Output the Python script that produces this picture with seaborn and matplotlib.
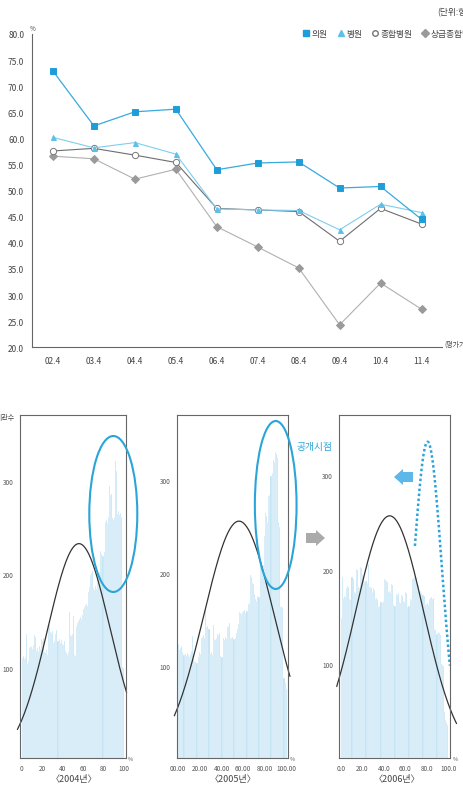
import numpy as np
import matplotlib
matplotlib.use("Agg")
import matplotlib.pyplot as plt
from matplotlib.lines import Line2D
from matplotlib.patches import Ellipse, FancyArrow
import seaborn as sns

# 평가 시점별 항목 충족률 (%)
periods = ["02.4", "03.4", "04.4", "05.4", "06.4", "07.4", "08.4", "09.4", "10.4", "11.4"]
clinic = [72.9, 62.4, 65.1, 65.6, 54.0, 55.3, 55.5, 50.5, 50.8, 44.5]
hospital = [60.2, 58.2, 59.2, 57.0, 46.5, 46.3, 46.2, 42.5, 47.4, 45.8]
general = [57.6, 58.1, 56.8, 55.4, 46.6, 46.3, 46.0, 40.3, 46.6, 43.6]
tertiary = [56.6, 56.1, 52.2, 54.1, 43.1, 39.2, 35.2, 24.3, 32.3, 27.3]
series_names = ["의원", "병원", "종합병원", "상급종합병원"]

# 히스토그램 (기관수, 1% 구간)
bins_pct = list(range(100))
count_2004 = [110, 112, 109, 111, 136, 104, 107, 121, 123, 122,
              120, 124, 135, 133, 118, 121, 117, 123, 120, 131,
              129, 132, 117, 116, 119, 114, 147, 146, 138, 137,
              139, 126, 128, 136, 140, 129, 131, 126, 130, 125,
              124, 128, 118, 116, 114, 117, 160, 135, 134, 136,
              155, 114, 112, 145, 148, 150, 152, 154, 152, 156,
              163, 165, 167, 168, 166, 181, 186, 199, 201, 204,
              185, 183, 188, 184, 202, 200, 203, 225, 222, 220,
              224, 256, 258, 255, 262, 295, 285, 286, 260, 258,
              262, 322, 311, 265, 268, 264, 266, 262, 101, 100]
count_2005 = [124, 118, 120, 122, 115, 112, 113, 111, 114, 112,
              110, 113, 116, 133, 108, 105, 106, 104, 110, 115,
              113, 130, 132, 134, 131, 163, 142, 143, 140, 113,
              115, 112, 144, 129, 128, 130, 135, 134, 136, 111,
              110, 130, 128, 132, 129, 142, 143, 147, 131, 130,
              132, 129, 131, 136, 140, 145, 158, 157, 156, 158,
              160, 161, 157, 159, 167, 168, 198, 196, 190, 188,
              178, 172, 170, 176, 175, 211, 210, 208, 209, 240,
              265, 262, 255, 283, 284, 305, 308, 322, 320, 330,
              328, 324, 255, 250, 164, 165, 163, 88, 82, 76]
count_2006 = [149, 192, 170, 172, 171, 180, 183, 181, 169, 168,
              192, 190, 176, 175, 201, 199, 181, 180, 203, 202,
              194, 193, 187, 188, 186, 206, 181, 182, 180, 176,
              180, 178, 169, 170, 168, 160, 161, 166, 165, 167,
              190, 189, 188, 187, 176, 177, 175, 185, 184, 162,
              161, 174, 173, 175, 166, 165, 173, 172, 167, 166,
              176, 175, 160, 161, 169, 168, 190, 191, 192, 193,
              191, 185, 184, 176, 177, 175, 173, 172, 162, 163,
              164, 162, 169, 170, 171, 169, 170, 137, 136, 132,
              134, 133, 131, 100, 99, 98, 49, 40, 37, 35]
hist_captions = ["〈2004년〉", "〈2005년〉", "〈2006년〉"]
hist_xticklabels = [["0", "20", "40", "60", "80", "100"],
                    ["00.00", "20.00", "40.00", "60.00", "80.00", "100.00"],
                    ["0.0", "20.0", "40.0", "60.0", "80.0", "100.0"]]
# 정규곡선 (평균, 표준편차, 최고점)
fit_mean = [56.0, 56.1, 45.5]
fit_sd = [30.6, 32.3, 31.5]
fit_peak = [233, 256, 257]
# 공개 이전 분포 (점선)
prev_mean, prev_sd, prev_peak = 80.8, 13.2, 335.6

W, H = 464, 803
sns.set_style("white")
plt.rcParams["font.family"] = ["Noto Sans CJK KR", "DejaVu Sans"]

fig = plt.figure(figsize=(W / 100, H / 100), dpi=100)

# ---------- 상단 꺾은선 그래프 ----------
ax = fig.add_axes([32.5 / W, 1 - 348.3 / H, (442 - 32.5) / W, (348.3 - 35) / H])
styles = [
    (tertiary, "#b0b0b0", "D", 4.2, "#9a9a9a", "#9a9a9a", 0.8),
    (general, "#6e6e6e", "o", 4.5, "white", "#777777", 0.8),
    (hospital, "#7fcdef", "^", 3.6, "#5cc0ea", "#5cc0ea", 0.8),
    (clinic, "#3aa9dd", "s", 3.8, "#1e9ed8", "#1e9ed8", 0.9),
]
for vals, lc, mk, ms, mfc, mec, lw in styles:
    sns.lineplot(x=periods, y=vals, ax=ax, sort=False, color=lc, linewidth=lw,
                 marker=mk, markersize=ms, markerfacecolor=mfc,
                 markeredgecolor=mec, markeredgewidth=0.7)

ax.set_xlim(-0.5, 9.5)
ax.set_ylim(20, 80)
ax.set_xticks(range(len(periods)))
ax.set_xticklabels(periods)
ax.set_xticks(np.arange(0.5, 10, 1), minor=True)
ax.set_yticks(np.arange(20, 81, 5))
ax.set_yticklabels([f"{v:.1f}" for v in np.arange(20, 81, 5)])
ax.tick_params(axis="x", which="major", length=0, labelsize=6, colors="#444444", pad=6)
ax.tick_params(axis="x", which="minor", direction="in", length=8, width=0.7, color="#666666")
ax.tick_params(axis="y", length=2, width=0.6, labelsize=6, colors="#444444", pad=4)
ax.set_xlabel("")
ax.set_ylabel("")
for s in ["top", "right"]:
    ax.spines[s].set_visible(False)
for s in ["left", "bottom"]:
    ax.spines[s].set_color("#666666")
    ax.spines[s].set_linewidth(0.8)

handles = [
    Line2D([], [], linestyle="none", marker="s", markersize=4, color="#1e9ed8"),
    Line2D([], [], linestyle="none", marker="^", markersize=4, color="#5cc0ea"),
    Line2D([], [], linestyle="none", marker="o", markersize=4, markerfacecolor="white",
           markeredgecolor="#777777"),
    Line2D([], [], linestyle="none", marker="D", markersize=3.6, color="#9a9a9a"),
]
fig.legend(handles, series_names, loc="center left", bbox_to_anchor=(294 / W, 1 - 35 / H),
           ncol=4, frameon=False, fontsize=6.3, handletextpad=0.1, columnspacing=1.0,
           handlelength=1.0, labelcolor="#444444")

fig.text(437 / W, 1 - 13 / H, "(단위:항목)", fontsize=6.3, va="center", color="#444444")
fig.text(33 / W, 1 - 29 / H, "%", fontsize=4.5, ha="center", va="center", color="#444444")
fig.text(444 / W, 1 - 345 / H, "(평가기간)", fontsize=5, va="center", color="#444444")

# ---------- 하단 히스토그램 ----------
lefts = [20, 176.7, 339.3]
rights = [125.7, 287.7, 450.3]
xlims = [(-1.66, 101.7), (-1.2, 100.9), (-1.3, 101.9)]
ylims = [(3, 371), (1.6, 370), (0, 364)]
curve_range = [(-4.2, 102.6), (-3.4, 103.0), (-3.7, 107.7)]
caption_x = [74, 233, 397]
counts_all = [count_2004, count_2005, count_2006]

for i in range(3):
    hax = fig.add_axes([lefts[i] / W, 1 - 759 / H, (rights[i] - lefts[i]) / W, (759 - 416) / H])
    sns.histplot(x=bins_pct, weights=counts_all[i], binwidth=1, binrange=(0, 100), ax=hax,
                 color="#b9e0f4", edgecolor="white", linewidth=0.25, alpha=1)
    xs = np.linspace(curve_range[i][0], curve_range[i][1], 300)
    ys = fit_peak[i] * np.exp(-((xs - fit_mean[i]) ** 2) / (2 * fit_sd[i] ** 2))
    hax.plot(xs, ys, color="#333333", linewidth=0.9, clip_on=False)
    if i == 2:
        xd = np.linspace(69, 101.5, 200)
        yd = prev_peak * np.exp(-((xd - prev_mean) ** 2) / (2 * prev_sd ** 2))
        hax.plot(xd, yd, color="#2ba3da", linewidth=1.8, linestyle=(0, (1.0, 1.0)),
                 clip_on=False)
    hax.set_xlim(*xlims[i])
    hax.set_ylim(*ylims[i])
    hax.set_xticks(range(0, 101, 20))
    hax.set_xticklabels(hist_xticklabels[i])
    hax.set_yticks([100, 200, 300])
    hax.tick_params(length=2.5, width=0.6, labelsize=4.6, colors="#555555", pad=2)
    hax.set_xlabel("")
    hax.set_ylabel("")
    for s in hax.spines.values():
        s.set_color("#666666")
        s.set_linewidth(0.8)
    fig.text((rights[i] + 5) / W, 1 - 760 / H, "%", fontsize=4, ha="center", va="center",
             color="#555555")
    fig.text(caption_x[i] / W, 1 - 780 / H, hist_captions[i], fontsize=6.5, ha="center",
             va="center", color="#444444")

fig.text(15 / W, 1 - 418 / H, "기관수", fontsize=5, ha="right", va="center", color="#444444")

# 강조 표시
tr = fig.dpi_scale_trans
for cx, cy, ew, eh in [(113.3, 515, 48, 156), (275.7, 506, 41.7, 168)]:
    fig.add_artist(Ellipse((cx / 100, (H - cy) / 100), ew / 100, eh / 100, transform=tr,
                           fill=False, edgecolor="#2aa5d8", linewidth=1.5))
fig.text(297 / W, 1 - 447 / H, "공개시점", fontsize=7, va="center", color="#2aa5d8")
fig.add_artist(FancyArrow(3.06, (H - 539) / 100, 0.19, 0, width=0.10, head_width=0.16,
                          head_length=0.09, length_includes_head=True, color="#aaaaaa",
                          linewidth=0, transform=tr))
fig.add_artist(FancyArrow(4.13, (H - 478) / 100, -0.19, 0, width=0.10, head_width=0.16,
                          head_length=0.09, length_includes_head=True, color="#5bb8e8",
                          linewidth=0, transform=tr))

fig.savefig("out.png", dpi=100)
